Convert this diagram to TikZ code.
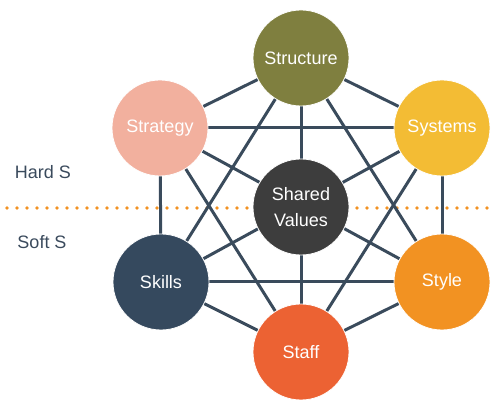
\documentclass[tikz,border=0pt]{standalone}
\usepackage{fontspec}
\setmainfont{Liberation Sans}
\definecolor{cStructure}{HTML}{7F7F3F}
\definecolor{cStrategy}{HTML}{F2B09E}
\definecolor{cSystems}{HTML}{F3BC34}
\definecolor{cShared}{HTML}{3D3D3D}
\definecolor{cSkills}{HTML}{35495E}
\definecolor{cStyle}{HTML}{F29222}
\definecolor{cStaff}{HTML}{EC6233}
\definecolor{cLine}{HTML}{3A4B5C}
\definecolor{cText}{HTML}{3A4A5C}
\begin{document}
\begin{tikzpicture}[x=1pt,y=-1pt,
  sball/.style={circle,minimum size=96pt,inner sep=0pt,draw=white,line width=0.8pt,text=white,font=\fontsize{18}{26}\selectfont,align=center},
  link/.style={draw=cLine,line width=3pt},
  side/.style={text=cText,font=\fontsize{18}{20}\selectfont,anchor=center}]
\useasboundingbox (0,0) rectangle (499,414);
% dotted divider
\foreach \i in {0,...,48} {\fill[cStyle] (7+\i*10,208) circle (1.9pt);}
\coordinate (c1) at (301,58);
\coordinate (c2) at (160,128);
\coordinate (c3) at (442,128);
\coordinate (c4) at (301,207);
\coordinate (c5) at (161,282);
\coordinate (c6) at (442,282);
\coordinate (c7) at (301,352);
% every pair is linked; the three diagonals through the centre are single lines
\foreach \a/\b in {c1/c2,c1/c3,c1/c5,c1/c6,c1/c7,c2/c3,c2/c5,c2/c6,c2/c7,c3/c5,c3/c6,c3/c7,c5/c6,c5/c7,c6/c7}
  {\draw[link] (\a) -- (\b);}
\node[sball,fill=cStructure] (structure) at (c1) {Structure};
\node[sball,fill=cStrategy] (strategy) at (c2) {Strategy};
\node[sball,fill=cSystems] (systems) at (c3) {Systems};
\node[sball,fill=cShared] (shared) at (c4) {Shared\\Values};
\node[sball,fill=cSkills] (skills) at (c5) {Skills};
\node[sball,fill=cStyle] (style) at (c6) {Style};
\node[sball,fill=cStaff] (staff) at (c7) {Staff};
\node[side] (hard) at (43,172) {Hard S};
\node[side] (soft) at (42,242) {Soft S};
\end{tikzpicture}
\end{document}
